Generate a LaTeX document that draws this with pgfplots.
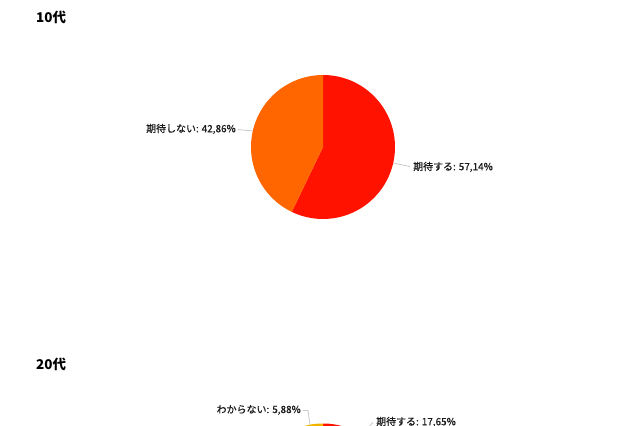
\documentclass[border=0pt]{standalone}
\usepackage{pgfplots}
\usepackage{pgfplotstable}
\pgfplotsset{compat=1.18}
\usepackage{fontspec}
\newfontfamily\jp{Noto Sans CJK JP}
\newfontfamily\jplabel[FakeBold=0.6]{Noto Sans CJK JP}

\definecolor{pieRed}{HTML}{FF1300}
\definecolor{pieOrange}{HTML}{FF6600}
\definecolor{pieYellow}{HTML}{F2B400}
\definecolor{leader}{HTML}{C8C8C8}
\definecolor{labeltext}{HTML}{1A1A1A}

% share of each answer, clockwise from 12 o'clock
\pgfplotstableread{
value colour
57.14 pieRed
42.86 pieOrange
}\teens
\pgfplotstableread{
value colour
17.65 pieRed
76.47 pieOrange
5.88  pieYellow
}\twenties

% #1 table, #2 centre coordinate, #3 radius
\newcommand\drawpie[3]{%
  \pgfplotstablegetrowsof{#1}%
  \pgfmathtruncatemacro\lastrow{\pgfplotsretval-1}%
  \gdef\cum{0}%
  \foreach \i in {0,...,\lastrow}{%
    \pgfplotstablegetelem{\i}{value}\of{#1}\let\v\pgfplotsretval
    \pgfplotstablegetelem{\i}{colour}\of{#1}\let\c\pgfplotsretval
    \pgfmathsetmacro\a{90-3.6*\cum}%
    \pgfmathsetmacro\b{90-3.6*(\cum+\v)}%
    \fill[fill=\c] (#2) -- ++(\a:#3) arc[start angle=\a, end angle=\b, radius=#3] -- cycle;
    \pgfmathsetmacro\n{\cum+\v}\xdef\cum{\n}%
  }%
}

\begin{document}
\begin{tikzpicture}
  \useasboundingbox (0,0) rectangle (640bp,426bp);
  \clip (0,0) rectangle (640bp,426bp);
  \begin{axis}[
      at={(0,0)}, anchor=south west,
      width=640bp, height=426bp, scale only axis,
      xmin=0, xmax=640, ymin=0, ymax=426,
      y dir=reverse,
      hide axis, clip=false,
    ]
    \addplot[draw=none] coordinates {(0,0) (640,426)};
    \coordinate (c10) at (axis cs:323,147);
    \coordinate (c20) at (axis cs:323,495.5);

    % titles
    \node[anchor=west, inner sep=0pt, font=\jp\bfseries\fontsize{13.5}{16}\selectfont]
      at (axis cs:36,17) {10代};
    \node[anchor=west, inner sep=0pt, font=\jp\bfseries\fontsize{13.5}{16}\selectfont]
      at (axis cs:36,364) {20代};

    % leader lines
    \draw[leader, line width=0.8pt] (axis cs:253,131) -- (axis cs:238,129.5);
    \draw[leader, line width=0.8pt] (axis cs:393,163) -- (axis cs:410,166.5);
    \draw[leader, line width=0.8pt] (axis cs:310,425) -- (axis cs:308,410.5) -- (axis cs:303,410.5);
    \draw[leader, line width=0.8pt] (axis cs:361,434) -- (axis cs:373,422.5);

    % slice labels
    \begin{scope}[every node/.style={inner sep=0pt, text=labeltext,
        font=\jplabel\fontsize{10}{12}\selectfont}]
      \node[anchor=east] at (axis cs:236,129) {期待しない: 42,86\%};
      \node[anchor=west] at (axis cs:413,167) {期待する: 57,14\%};
      \node[anchor=east] at (axis cs:301,410) {わからない: 5,88\%};
      \node[anchor=west] at (axis cs:376,422) {期待する: 17,65\%};
    \end{scope}
  \end{axis}
  \drawpie{\teens}{c10}{72bp}
  \drawpie{\twenties}{c20}{72bp}
\end{tikzpicture}
\end{document}
